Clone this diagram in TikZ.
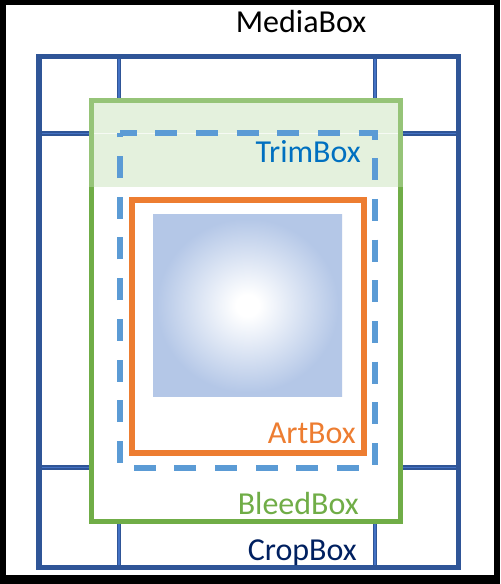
\documentclass[tikz,border=0pt]{standalone}
\usepackage{fontspec}
\setmainfont{Carlito}
\definecolor{cropblue}{HTML}{2F5597}
\definecolor{gridin}{HTML}{4472C4}
\definecolor{bleedgreen}{HTML}{70AD47}
\definecolor{bandgreen}{HTML}{C5E0B4}
\definecolor{trimblue}{HTML}{5B9BD5}
\definecolor{trimtext}{HTML}{0070C0}
\definecolor{artorange}{HTML}{ED7D31}
\definecolor{croptext}{HTML}{002060}
\definecolor{artfill}{HTML}{B4C7E7}
\pgfdeclareradialshading{artshade}{\pgfpoint{0bp}{0bp}}{color(0bp)=(white); color(3bp)=(white); color(24bp)=(artfill); color(50bp)=(artfill)}
\tikzset{
  lbl/.style={font=\fontsize{24}{28}\selectfont, inner sep=0pt, anchor=base east},
  gridline/.style={draw=cropblue, line width=3.6pt},
  gridinner/.style={draw=gridin, line width=1.3pt},
}
\begin{document}
\begin{tikzpicture}[x=0.75pt,y=-0.75pt]
\useasboundingbox (0,0) rectangle (500,584);
\fill[black] (0,0) rectangle (500,584);
\fill[white] (6,5) rectangle (494,575);
\node[lbl, anchor=base, text=black] (media) at (301,33) {MediaBox};
% grid lines of the crop box
\foreach \gx in {119,375} {
  \draw[gridline] (\gx,56.5) -- (\gx,567.5);
  \draw[gridinner] (\gx,56.5) -- (\gx,567.5);
}
\foreach \gy in {133.5,467.5} {
  \draw[gridline] (39,\gy) -- (458.5,\gy);
  \draw[gridinner] (39,\gy) -- (458.5,\gy);
}
\draw[draw=cropblue, line width=4.1pt] (39,56.5) rectangle (458.5,567.5);
% bleed box
\draw[draw=bleedgreen, fill=white, line width=4.1pt] (91.5,100.5) rectangle (400.5,521.5);
\fill[bandgreen, opacity=0.45] (89,98) rectangle (403,187);
\draw[white, opacity=0.7, line width=0.6pt] (94,133.5) -- (398,133.5);
% trim box
\draw[draw=trimblue, line width=4.5pt, dash pattern=on 16.5pt off 14pt, dash phase=4pt] (120,133.5) -- (374.5,133.5) -- (374.5,468) -- (120,468) -- cycle;
% art box
\draw[draw=artorange, line width=4.5pt] (131.5,200) rectangle (364,453);
\path[shading=artshade] (153,215) rectangle (342,396);
% labels
\node[lbl, text=trimtext] (trim) at (361,163) {TrimBox};
\node[lbl, text=artorange] (art) at (356,443) {ArtBox};
\node[lbl, text=bleedgreen] (bleed) at (359,514) {BleedBox};
\node[lbl, text=croptext] (crop) at (357,560) {CropBox};
\end{tikzpicture}
\end{document}
